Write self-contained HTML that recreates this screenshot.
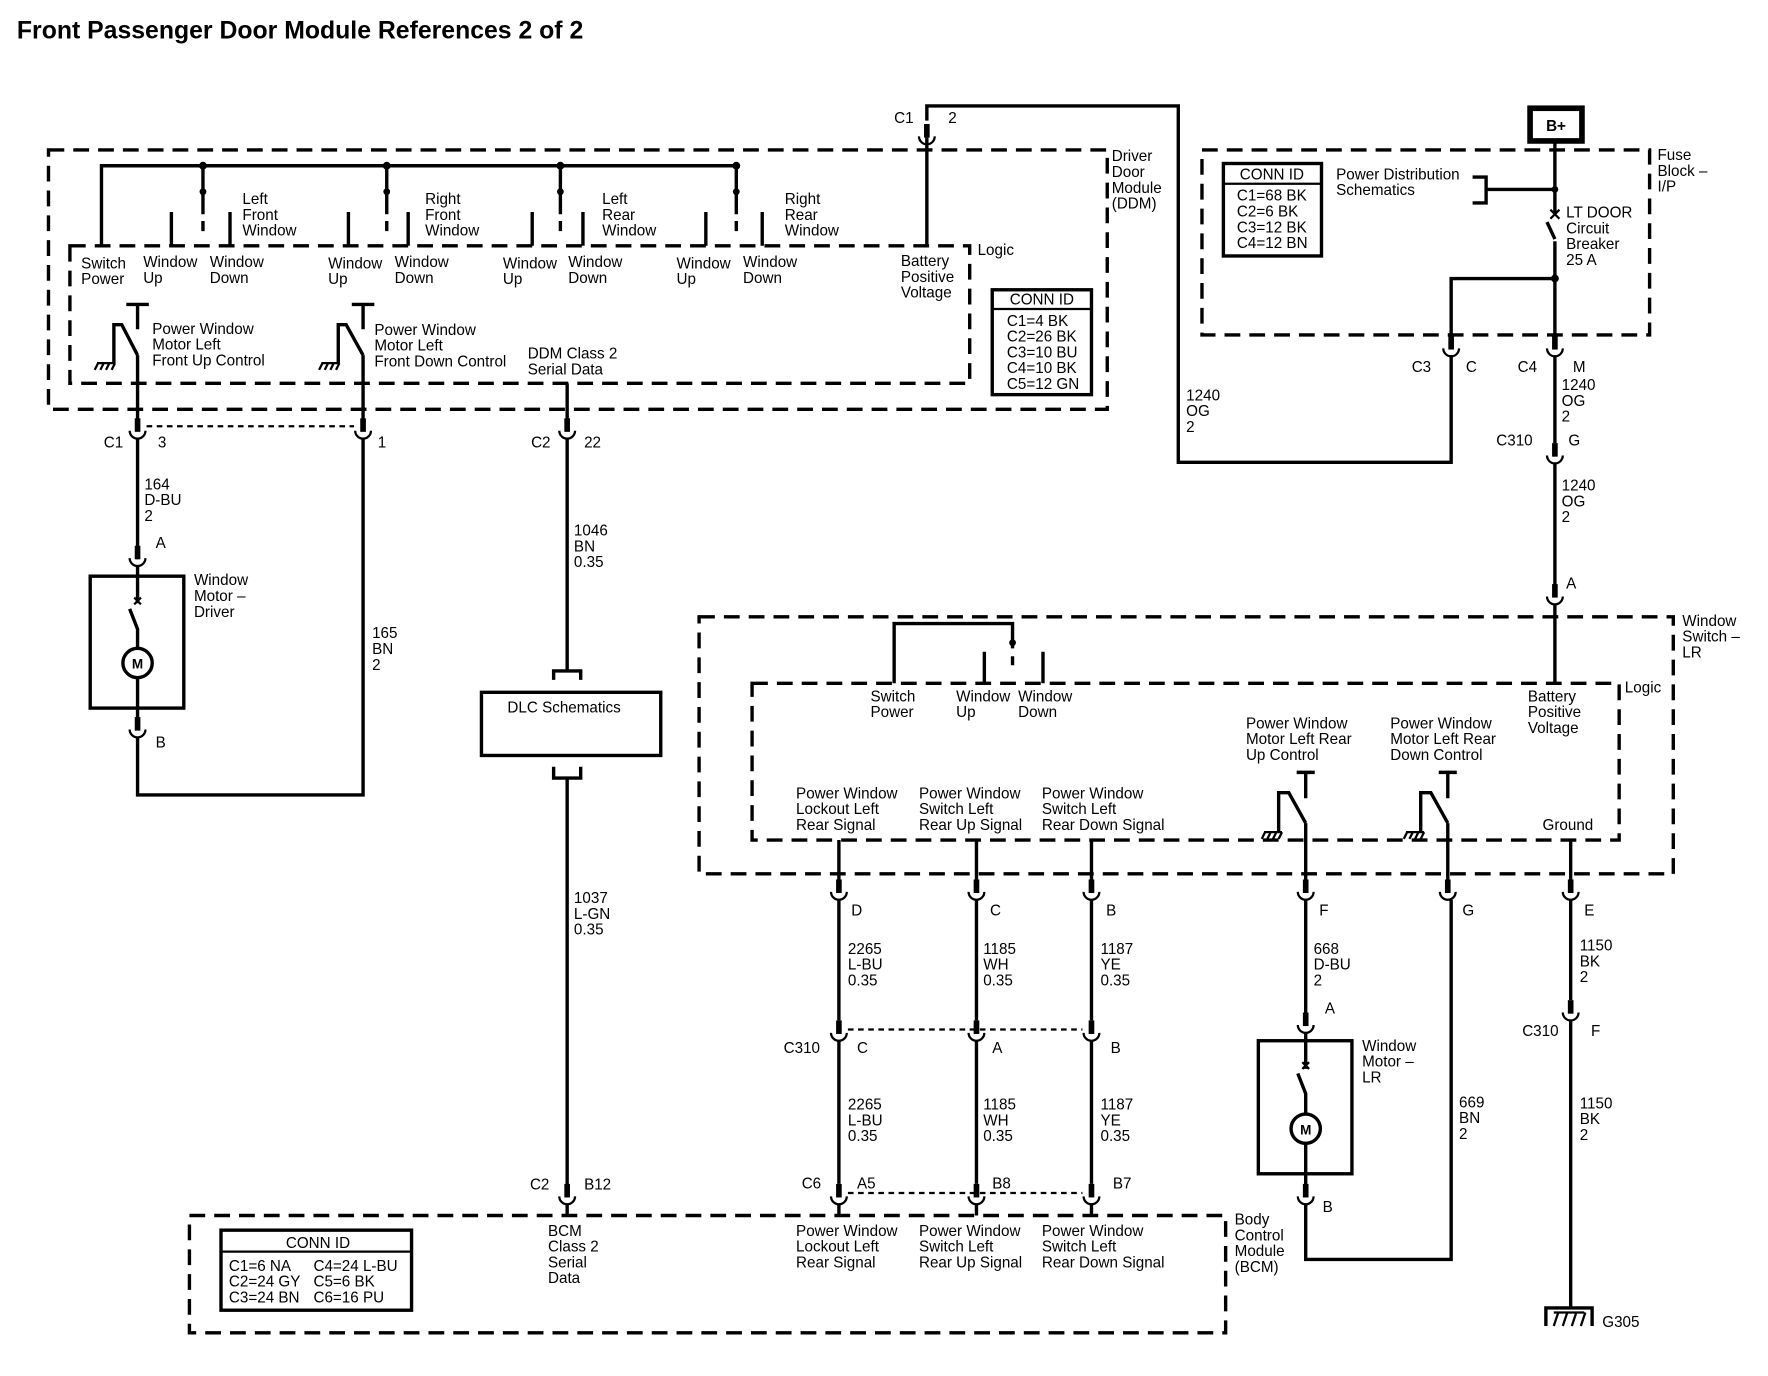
<!DOCTYPE html>
<html><head><meta charset="utf-8"><style>
html,body{margin:0;padding:0;background:#fff}
svg{display:block}
text{font-family:"Liberation Sans",sans-serif;font-size:13.5px;fill:#000}
.b{font-weight:bold}
.w{stroke:#000;stroke-width:3;fill:none}
.d{stroke:#000;stroke-width:3;fill:none;stroke-dasharray:14 8}
.t{stroke:#000;stroke-width:2;fill:none}
</style></head><body>
<svg width="1768" height="1376" viewBox="0 0 1568 1220" preserveAspectRatio="xMinYMin meet" xmlns="http://www.w3.org/2000/svg">
<defs>
<g id="cn"><rect x="-2.5" y="-12" width="5" height="12" fill="#000"/><path d="M-7 -1 A7 7 0 0 0 7 -1" class="t" stroke-width="2.5"/></g>
<g id="gn"><path d="M-10 0 H6 M-9 0 l-3 6 M-4 0 l-3 6 M1 0 l-3 6 M6 0 l-3 6" stroke="#000" stroke-width="2" fill="none"/></g>
</defs>
<text x="15" y="34" style="font-size:22px;font-weight:bold">Front Passenger Door Module References 2 of 2</text>

<!-- DDM -->
<rect x="43" y="133" width="939" height="230" class="d"/>
<rect x="62" y="218" width="798" height="122" class="d"/>
<text x="986" y="143">Driver</text><text x="986" y="157">Door</text><text x="986" y="171">Module</text><text x="986" y="185">(DDM)</text>
<text x="867" y="226">Logic</text>
<path d="M90 218 V147 H653" class="w"/>
<g fill="#000"><circle cx="180" cy="147" r="3.5"/><circle cx="343" cy="147" r="3.5"/><circle cx="497" cy="147" r="3.5"/><circle cx="653" cy="147" r="3.5"/>
<circle cx="180" cy="170" r="3"/><circle cx="343" cy="170" r="3"/><circle cx="497" cy="170" r="3"/><circle cx="653" cy="170" r="3"/></g>
<path d="M180 147V190M180 196V205M343 147V190M343 196V205M497 147V190M497 196V205M653 147V190M653 196V205" class="w"/>
<path d="M152 188V218M204 218V188M309 188V218M362 218V188M472 188V218M517 218V188M626 188V218M676 218V188" class="w"/>
<text x="215" y="181">Left</text><text x="215" y="195">Front</text><text x="215" y="209">Window</text>
<text x="377" y="181">Right</text><text x="377" y="195">Front</text><text x="377" y="209">Window</text>
<text x="534" y="181">Left</text><text x="534" y="195">Rear</text><text x="534" y="209">Window</text>
<text x="696" y="181">Right</text><text x="696" y="195">Rear</text><text x="696" y="209">Window</text>
<text x="72" y="238">Switch</text><text x="72" y="252">Power</text>
<text x="127" y="237">Window</text><text x="127" y="251">Up</text>
<text x="186" y="237">Window</text><text x="186" y="251">Down</text>
<text x="291" y="238">Window</text><text x="291" y="252">Up</text>
<text x="350" y="237">Window</text><text x="350" y="251">Down</text>
<text x="446" y="238">Window</text><text x="446" y="252">Up</text>
<text x="504" y="237">Window</text><text x="504" y="251">Down</text>
<text x="600" y="238">Window</text><text x="600" y="252">Up</text>
<text x="659" y="237">Window</text><text x="659" y="251">Down</text>
<text x="799" y="236">Battery</text><text x="799" y="250">Positive</text><text x="799" y="264">Voltage</text>
<path d="M822 218V122" class="w"/>
<use href="#cn" x="822" y="122"/>
<path d="M822 107V94H1045V410H1287V315M1287 300V247H1379" class="w"/>
<text x="793" y="109">C1</text><text x="841" y="109">2</text>
<text x="1052" y="355">1240</text><text x="1052" y="369">OG</text><text x="1052" y="383">2</text>
<!-- switches DDM -->
<path d="M112 270H132M122 270V292M122 315V375M101 322V288H108L122 315" class="w"/>
<use href="#gn" x="96" y="322"/>
<path d="M312 270H332M322 270V292M322 315V375M300 322V288H307L322 315" class="w"/>
<use href="#gn" x="295" y="322"/>
<text x="135" y="296">Power Window</text><text x="135" y="310">Motor Left</text><text x="135" y="324">Front Up Control</text>
<text x="332" y="297">Power Window</text><text x="332" y="311">Motor Left</text><text x="332" y="325">Front Down Control</text>
<text x="468" y="318">DDM Class 2</text><text x="468" y="332">Serial Data</text>
<path d="M503 340V375" class="w"/>
<rect x="880" y="257" width="88" height="93" class="w" stroke-width="2.5"/><path d="M880 274H968" class="t"/>
<text x="924" y="270" text-anchor="middle">CONN ID</text>
<text x="893" y="289">C1=4 BK</text><text x="893" y="303">C2=26 BK</text><text x="893" y="317">C3=10 BU</text><text x="893" y="331">C4=10 BK</text><text x="893" y="345">C5=12 GN</text>
<!-- DDM connectors -->
<use href="#cn" x="122" y="383"/><use href="#cn" x="322" y="383"/><use href="#cn" x="503" y="383"/>
<path d="M130 378H314" stroke="#000" stroke-width="2" stroke-dasharray="5 4"/>
<text x="92" y="397">C1</text><text x="140" y="397">3</text><text x="335" y="397">1</text>
<text x="471" y="397">C2</text><text x="518" y="397">22</text>
<!-- driver motor -->
<path d="M122 389V496" class="w"/>
<use href="#cn" x="122" y="496"/>
<text x="128" y="434">164</text><text x="128" y="448">D-BU</text><text x="128" y="462">2</text>
<text x="138" y="486">A</text>
<rect x="80" y="511" width="83" height="117" class="w"/>
<path d="M122 502V535M115 540L122 558V575M122 601V640" class="w"/>
<path d="M119 530l6 6M125 530l-6 6" stroke="#000" stroke-width="2"/>
<circle cx="122" cy="588" r="13" class="w" fill="#fff"/><text x="122" y="593" text-anchor="middle" class="b" style="font-size:12px">M</text>
<text x="172" y="519">Window</text><text x="172" y="533">Motor –</text><text x="172" y="547">Driver</text>
<use href="#cn" x="122" y="648"/>
<text x="138" y="663">B</text>
<path d="M122 654V705H322V389" class="w"/>
<text x="330" y="566">165</text><text x="330" y="580">BN</text><text x="330" y="594">2</text>
<!-- DLC -->
<path d="M503 389V595M491 603V595H515V603" class="w"/>
<text x="509" y="475">1046</text><text x="509" y="489">BN</text><text x="509" y="503">0.35</text>
<rect x="427" y="614" width="159" height="56" class="w"/>
<text x="450" y="632">DLC Schematics</text>
<path d="M491 680V690H515V680M503 690V1052" class="w"/>
<text x="509" y="801">1037</text><text x="509" y="815">L-GN</text><text x="509" y="829">0.35</text>
<use href="#cn" x="503" y="1062"/>
<path d="M503 1068V1078" class="w"/>
<text x="470" y="1055">C2</text><text x="518" y="1055">B12</text>
<!-- BCM -->
<rect x="168" y="1078" width="919" height="104" class="d"/>
<text x="1095" y="1086">Body</text><text x="1095" y="1100">Control</text><text x="1095" y="1114">Module</text><text x="1095" y="1128">(BCM)</text>
<rect x="196" y="1091" width="169" height="71" class="w" stroke-width="2.5"/><path d="M196 1110H365" class="t"/>
<text x="282" y="1107" text-anchor="middle">CONN ID</text>
<text x="203" y="1127">C1=6 NA</text><text x="278" y="1127">C4=24 L-BU</text>
<text x="203" y="1141">C2=24 GY</text><text x="278" y="1141">C5=6 BK</text>
<text x="203" y="1155">C3=24 BN</text><text x="278" y="1155">C6=16 PU</text>
<text x="486" y="1096">BCM</text><text x="486" y="1110">Class 2</text><text x="486" y="1124">Serial</text><text x="486" y="1138">Data</text>
<text x="706" y="1096">Power Window</text><text x="706" y="1110">Lockout Left</text><text x="706" y="1124">Rear Signal</text>
<text x="815" y="1096">Power Window</text><text x="815" y="1110">Switch Left</text><text x="815" y="1124">Rear Up Signal</text>
<text x="924" y="1096">Power Window</text><text x="924" y="1110">Switch Left</text><text x="924" y="1124">Rear Down Signal</text>
<!-- Fuse block -->
<rect x="1066" y="133" width="397" height="164" class="d"/>
<text x="1470" y="142">Fuse</text><text x="1470" y="156">Block –</text><text x="1470" y="170">I/P</text>
<rect x="1357" y="96" width="46" height="29" fill="#fff" stroke="#000" stroke-width="5"/>
<text x="1380" y="116" text-anchor="middle" class="b">B+</text>
<rect x="1085" y="145" width="87" height="82" class="w" stroke-width="2.5"/><path d="M1085 163H1172" class="t"/>
<text x="1128" y="159" text-anchor="middle">CONN ID</text>
<text x="1097" y="178">C1=68 BK</text><text x="1097" y="192">C2=6 BK</text><text x="1097" y="206">C3=12 BK</text><text x="1097" y="220">C4=12 BN</text>
<text x="1185" y="159">Power Distribution</text><text x="1185" y="173">Schematics</text>
<path d="M1306 157H1318V180H1306M1318 168H1379M1379 125V190M1379 214V300" class="w"/>
<path d="M1372 197L1379 212" class="w"/>
<path d="M1375 186l8 8M1383 186l-8 8" stroke="#000" stroke-width="2"/>
<circle cx="1379" cy="168" r="3" fill="#000"/><circle cx="1379" cy="247" r="3.5" fill="#000"/>
<text x="1389" y="193">LT DOOR</text><text x="1389" y="207">Circuit</text><text x="1389" y="221">Breaker</text><text x="1389" y="235">25 A</text>
<use href="#cn" x="1287" y="310"/><use href="#cn" x="1379" y="310"/>
<text x="1252" y="330">C3</text><text x="1300" y="330">C</text><text x="1346" y="330">C4</text><text x="1395" y="330">M</text>
<path d="M1379 316V393" class="w"/>
<text x="1385" y="346">1240</text><text x="1385" y="360">OG</text><text x="1385" y="374">2</text>
<use href="#cn" x="1379" y="405"/>
<text x="1327" y="395">C310</text><text x="1391" y="395">G</text>
<path d="M1379 411V520" class="w"/>
<text x="1385" y="435">1240</text><text x="1385" y="449">OG</text><text x="1385" y="463">2</text>
<use href="#cn" x="1379" y="530"/>
<text x="1389" y="522">A</text>
<path d="M1379 536V606" class="w"/>
<!-- Window Switch LR -->
<rect x="620" y="547" width="864" height="228" class="d"/>
<rect x="667" y="606" width="769" height="139" class="d"/>
<text x="1492" y="555">Window</text><text x="1492" y="569">Switch –</text><text x="1492" y="583">LR</text>
<text x="1441" y="614">Logic</text>
<path d="M793 606V553H898V575M898 582V590M873 578V606M925 578V606" class="w"/>
<circle cx="898" cy="570" r="3" fill="#000"/>
<text x="772" y="622">Switch</text><text x="772" y="636">Power</text>
<text x="848" y="622">Window</text><text x="848" y="636">Up</text>
<text x="903" y="622">Window</text><text x="903" y="636">Down</text>
<text x="1355" y="622">Battery</text><text x="1355" y="636">Positive</text><text x="1355" y="650">Voltage</text>
<text x="1105" y="646">Power Window</text><text x="1105" y="660">Motor Left Rear</text><text x="1105" y="674">Up Control</text>
<text x="1233" y="646">Power Window</text><text x="1233" y="660">Motor Left Rear</text><text x="1233" y="674">Down Control</text>
<path d="M1150 685H1166M1158 685V708M1158 730V780M1134 738V703H1143L1158 730" class="w"/>
<use href="#gn" x="1131" y="738"/>
<path d="M1276 685H1292M1284 685V708M1284 730V780M1260 738V703H1269L1284 730" class="w"/>
<use href="#gn" x="1257" y="738"/>
<text x="706" y="708">Power Window</text><text x="706" y="722">Lockout Left</text><text x="706" y="736">Rear Signal</text>
<text x="815" y="708">Power Window</text><text x="815" y="722">Switch Left</text><text x="815" y="736">Rear Up Signal</text>
<text x="924" y="708">Power Window</text><text x="924" y="722">Switch Left</text><text x="924" y="736">Rear Down Signal</text>
<text x="1368" y="736">Ground</text>
<path d="M744 745V780M866 745V780M968 745V780M1393 745V780" class="w"/>
<use href="#cn" x="744" y="792"/><use href="#cn" x="866" y="792"/><use href="#cn" x="968" y="792"/>
<use href="#cn" x="1158" y="792"/><use href="#cn" x="1284" y="792"/><use href="#cn" x="1393" y="792"/>
<text x="755" y="812">D</text><text x="878" y="812">C</text><text x="981" y="812">B</text><text x="1170" y="812">F</text><text x="1297" y="812">G</text><text x="1405" y="812">E</text>
<path d="M744 798V905M866 798V905M968 798V905" class="w"/>
<text x="752" y="846">2265</text><text x="752" y="860">L-BU</text><text x="752" y="874">0.35</text>
<text x="872" y="846">1185</text><text x="872" y="860">WH</text><text x="872" y="874">0.35</text>
<text x="976" y="846">1187</text><text x="976" y="860">YE</text><text x="976" y="874">0.35</text>
<use href="#cn" x="744" y="917"/><use href="#cn" x="866" y="917"/><use href="#cn" x="968" y="917"/>
<path d="M752 913H960" stroke="#000" stroke-width="2" stroke-dasharray="5 4"/>
<text x="695" y="934">C310</text><text x="760" y="934">C</text><text x="880" y="934">A</text><text x="985" y="934">B</text>
<path d="M744 923V1050M866 923V1050M968 923V1050" class="w"/>
<text x="752" y="984">2265</text><text x="752" y="998">L-BU</text><text x="752" y="1012">0.35</text>
<text x="872" y="984">1185</text><text x="872" y="998">WH</text><text x="872" y="1012">0.35</text>
<text x="976" y="984">1187</text><text x="976" y="998">YE</text><text x="976" y="1012">0.35</text>
<use href="#cn" x="744" y="1062"/><use href="#cn" x="866" y="1062"/><use href="#cn" x="968" y="1062"/>
<path d="M752 1058H960" stroke="#000" stroke-width="2" stroke-dasharray="5 4"/>
<path d="M744 1068V1078M866 1068V1078M968 1068V1078" class="w"/>
<text x="711" y="1054">C6</text><text x="760" y="1054">A5</text><text x="880" y="1054">B8</text><text x="987" y="1054">B7</text>
<!-- LR motor -->
<path d="M1158 798V900" class="w"/>
<text x="1165" y="846">668</text><text x="1165" y="860">D-BU</text><text x="1165" y="874">2</text>
<use href="#cn" x="1158" y="910"/>
<text x="1175" y="899">A</text>
<rect x="1116" y="923" width="83" height="118" class="w"/>
<path d="M1158 916V948M1151 952L1158 970V988M1158 1014V1052" class="w"/>
<path d="M1155 942l6 6M1161 942l-6 6" stroke="#000" stroke-width="2"/>
<circle cx="1158" cy="1001" r="13" class="w" fill="#fff"/><text x="1158" y="1006" text-anchor="middle" class="b" style="font-size:12px">M</text>
<text x="1208" y="932">Window</text><text x="1208" y="946">Motor –</text><text x="1208" y="960">LR</text>
<use href="#cn" x="1158" y="1062"/>
<text x="1173" y="1075">B</text>
<path d="M1158 1068V1117H1287V798" class="w"/>
<text x="1294" y="982">669</text><text x="1294" y="996">BN</text><text x="1294" y="1010">2</text>
<!-- ground -->
<path d="M1393 798V887" class="w"/>
<text x="1401" y="843">1150</text><text x="1401" y="857">BK</text><text x="1401" y="871">2</text>
<use href="#cn" x="1393" y="899"/>
<text x="1350" y="919">C310</text><text x="1411" y="919">F</text>
<path d="M1393 905V1160" class="w"/>
<text x="1401" y="983">1150</text><text x="1401" y="997">BK</text><text x="1401" y="1011">2</text>
<path d="M1371 1176V1160H1412V1176" class="w"/>
<path d="M1378 1164H1405M1382 1164l-4 12M1390 1164l-4 12M1398 1164l-4 12M1406 1164l-4 12" stroke="#000" stroke-width="2"/>
<text x="1421" y="1177">G305</text>
</svg>
</body></html>
